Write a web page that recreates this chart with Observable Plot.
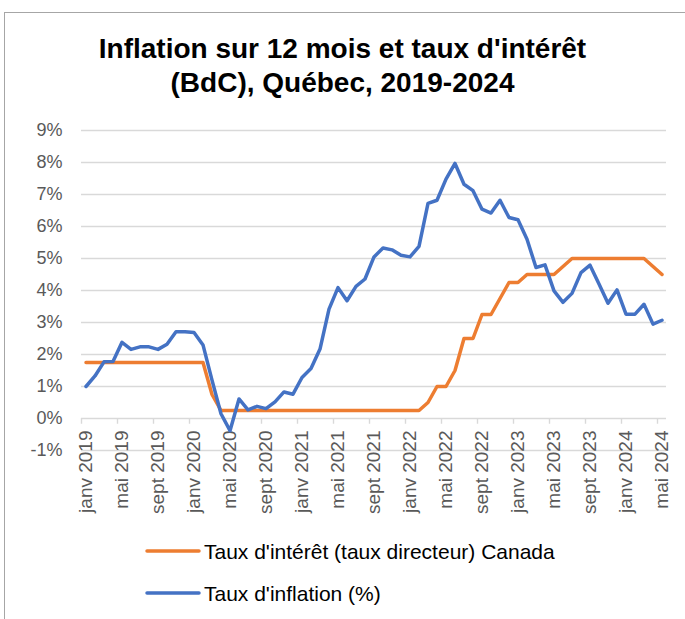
<!DOCTYPE html>
<html><head><meta charset="utf-8">
<script src="https://cdn.jsdelivr.net/npm/d3@7"></script>
<script src="https://cdn.jsdelivr.net/npm/@observablehq/plot@0.6"></script>
<style>
body{margin:0;background:#fff;}
#wrap{position:relative;width:685px;height:619px;font-family:"Liberation Sans",Arial,sans-serif;overflow:hidden;background:#fff;}
#frame{position:absolute;left:4px;top:12px;width:700px;height:700px;border-left:1px solid #a6a6a6;border-top:1px solid #a6a6a6;}
#title{position:absolute;left:0;width:685px;top:32px;text-align:center;font-weight:bold;font-size:28px;line-height:34px;color:#000;}
#chart{position:absolute;left:0;top:110px;}
#legend{position:absolute;left:0;top:535px;}
</style></head>
<body><div id="wrap"><div id="frame"></div>
<div id="title">Inflation sur 12 mois et taux d'intérêt<br>(BdC), Québec, 2019-2024</div>
<div id="chart"></div><div id="legend"></div></div>
<script>
const monthNames = ["janv","févr","mars","avr","mai","juin","juil","août","sept","oct","nov","déc"];
const years = [2019, 2020, 2021, 2022, 2023, 2024];
const tickLabels = ["janv 2019","mai 2019","sept 2019","janv 2020","mai 2020","sept 2020","janv 2021","mai 2021","sept 2021","janv 2022","mai 2022","sept 2022","janv 2023","mai 2023","sept 2023","janv 2024","mai 2024"];
const yTicks = [-1, 0, 1, 2, 3, 4, 5, 6, 7, 8, 9];
const seriesNames = ["Taux d'intérêt (taux directeur) Canada", "Taux d'inflation (%)"];
const seriesColors = ["#ED7D31", "#4472C4"];

// Taux d'inflation (%), janv 2019 - mai 2024
const inflation = [1.0,1.33,1.77,1.78,2.38,2.16,2.24,2.24,2.16,2.32,
  2.71,2.71,2.69,2.30,1.2,0.15,-0.38,0.61,0.27,0.38,
  0.31,0.52,0.83,0.76,1.28,1.56,2.17,3.42,4.09,3.68,
  4.13,4.36,5.05,5.33,5.27,5.10,5.05,5.38,6.72,6.82,
  7.48,7.97,7.32,7.12,6.54,6.42,6.82,6.28,6.21,5.60,
  4.72,4.80,3.99,3.63,3.91,4.56,4.79,4.20,3.60,4.02,
  3.26,3.26,3.57,2.95,3.07];
// Taux directeur Canada (%)
const taux = [1.75,1.75,1.75,1.75,1.75,1.75,1.75,1.75,1.75,1.75,
  1.75,1.75,1.75,1.75,0.75,0.25,0.25,0.25,0.25,0.25,
  0.25,0.25,0.25,0.25,0.25,0.25,0.25,0.25,0.25,0.25,
  0.25,0.25,0.25,0.25,0.25,0.25,0.25,0.25,0.5,1.0,
  1.0,1.5,2.5,2.5,3.25,3.25,3.75,4.25,4.25,4.5,
  4.5,4.5,4.5,4.75,5.0,5.0,5.0,5.0,5.0,5.0,
  5.0,5.0,5.0,4.75,4.5];

const months = [];
years.forEach(y => monthNames.forEach(m => months.push(m + " " + y)));
const data = inflation.map((v, i) => ({i, month: months[i], inflation: v, taux: taux[i]}));
const labelData = tickLabels.map(t => ({i: months.indexOf(t), t}));
const bounds = labelData.map(d => d.i - 0.5);

const font = '"Liberation Sans", Arial, sans-serif';
const chart = Plot.plot({
  width: 685, height: 430,
  marginLeft: 81, marginRight: 19, marginTop: 20, marginBottom: 90,
  x: {domain: [-0.5, inflation.length - 0.5], axis: null},
  y: {domain: [-1, 9], axis: null},
  style: {fontFamily: font, background: "transparent", overflow: "visible"},
  marks: [
    Plot.ruleY(yTicks, {y: d => d, stroke: "#d9d9d9", strokeWidth: 1.4}),
    Plot.ruleX(bounds, {x: d => d, y1: 0, y2: -0.18, stroke: "#d9d9d9", strokeWidth: 1.4}),
    Plot.text(yTicks, {y: d => d, frameAnchor: "left", textAnchor: "end", dx: -19, text: d => d + "%", fontSize: 18, fill: "#595959"}),
    Plot.text(labelData, {x: "i", y: 0, text: "t", rotate: -90, textAnchor: "end", dy: 12, fontSize: 19, fill: "#595959"}),
    Plot.line(data, {x: "i", y: "taux", stroke: seriesColors[0], strokeWidth: 3.5, strokeLinejoin: "round", strokeLinecap: "round"}),
    Plot.line(data, {x: "i", y: "inflation", stroke: seriesColors[1], strokeWidth: 3.5, strokeLinejoin: "round", strokeLinecap: "round"})
  ]
});
document.getElementById("chart").appendChild(chart);

const ns = "http://www.w3.org/2000/svg";
const leg = document.createElementNS(ns, "svg");
leg.setAttribute("width", 685); leg.setAttribute("height", 84);
seriesNames.forEach((name, k) => {
  const yy = 16 + k * 42;
  const ln = document.createElementNS(ns, "line");
  ln.setAttribute("x1", 147); ln.setAttribute("x2", 199);
  ln.setAttribute("y1", yy); ln.setAttribute("y2", yy);
  ln.setAttribute("stroke", seriesColors[k]); ln.setAttribute("stroke-width", 3.5);
  ln.setAttribute("stroke-linecap", "round");
  leg.appendChild(ln);
  const tx = document.createElementNS(ns, "text");
  tx.setAttribute("x", 204); tx.setAttribute("y", yy + 7.5);
  tx.setAttribute("font-size", 21); tx.setAttribute("font-family", font);
  tx.setAttribute("fill", "#000");
  tx.textContent = name;
  leg.appendChild(tx);
});
document.getElementById("legend").appendChild(leg);
</script>
</body></html>
